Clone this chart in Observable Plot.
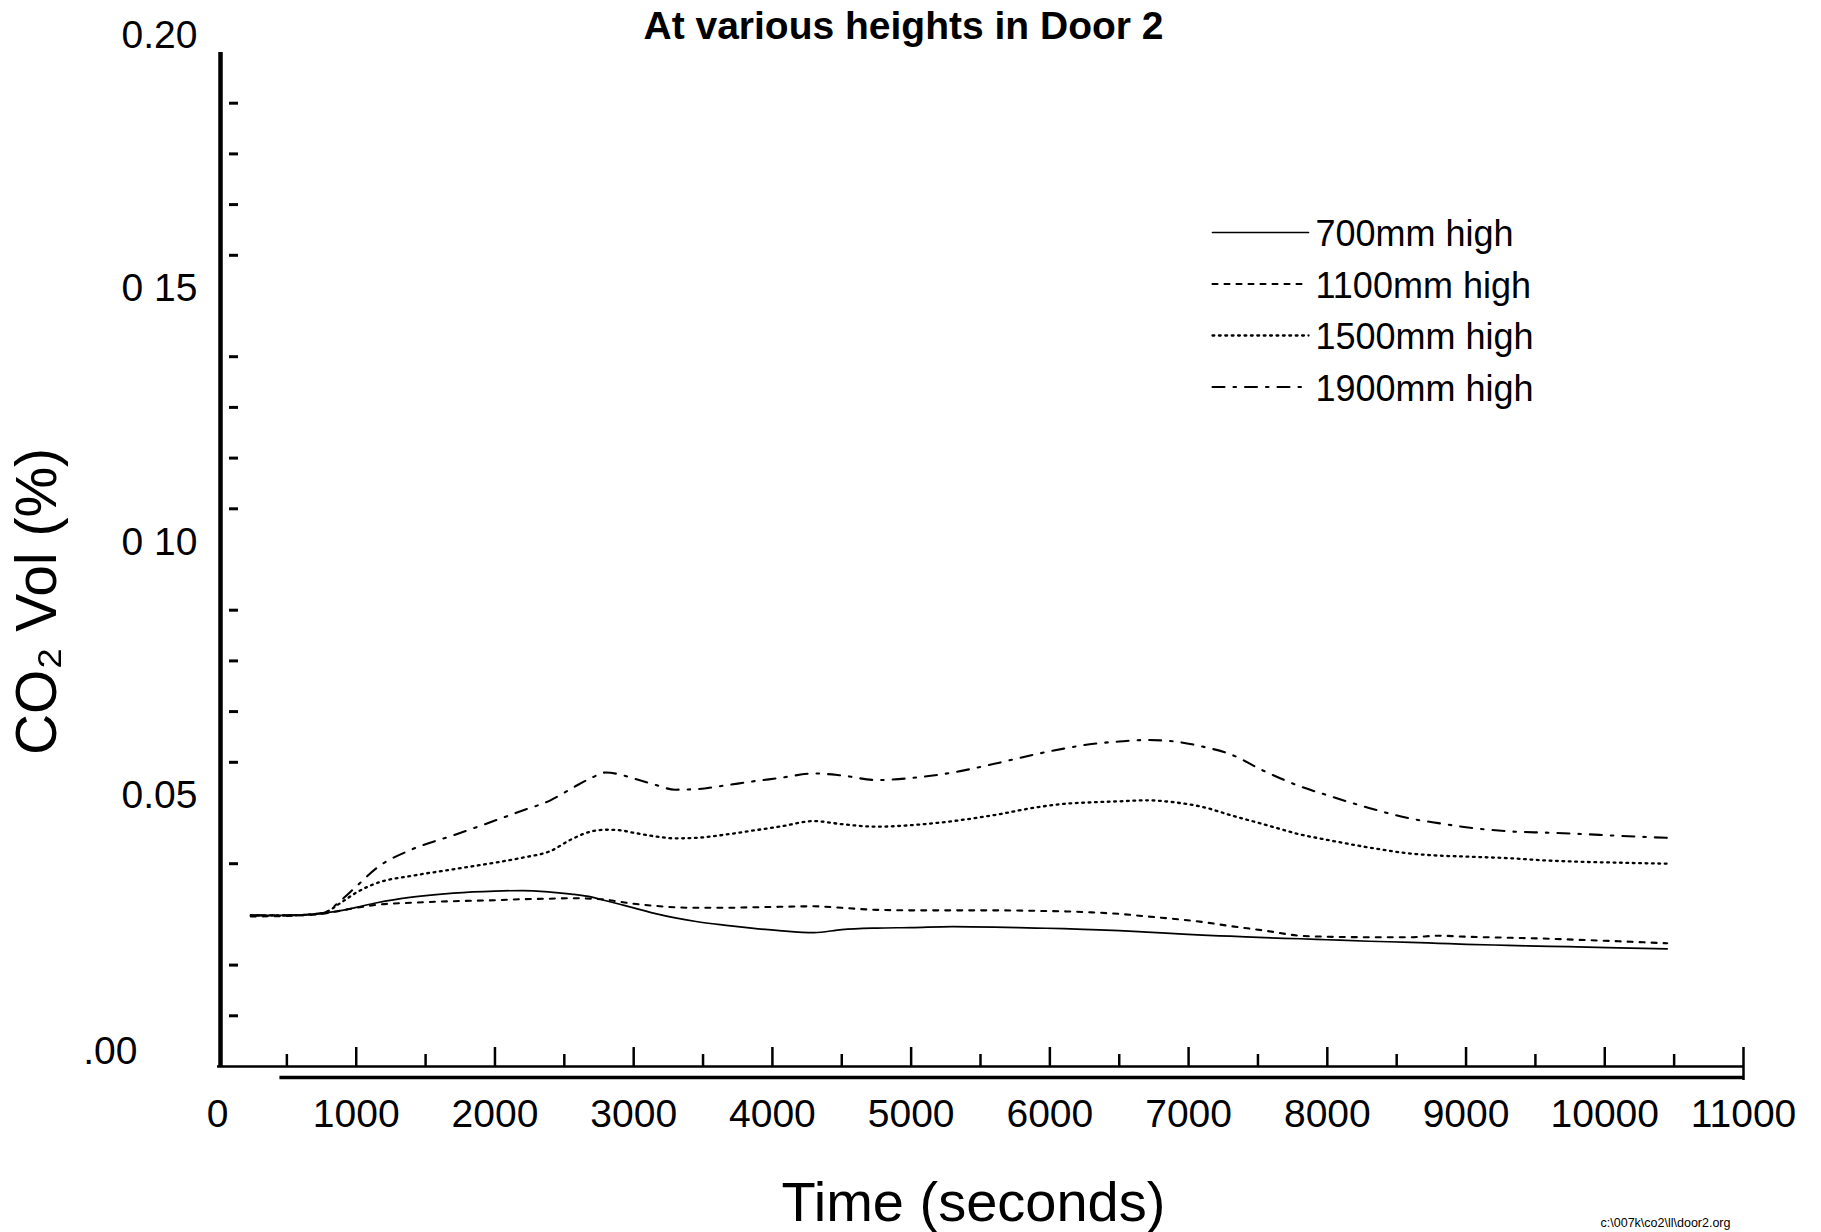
<!DOCTYPE html>
<html>
<head>
<meta charset="utf-8">
<script src="https://cdn.jsdelivr.net/npm/d3@7"></script>
<script src="https://cdn.jsdelivr.net/npm/@observablehq/plot@0.6"></script>
<style>
  html, body { margin: 0; padding: 0; background: #fff; overflow: hidden; }
  #chart svg { display: block; }
</style>
</head>
<body>
<div id="chart"></div>
<script>
// ---------------- data ----------------
const titleText = "At various heights in Door 2";
const xTitle = "Time (seconds)";
const yTitle = "CO\u2082 Vol (%)";
const footerText = "c:\\007k\\co2\\ll\\door2.org";

const seriesNames = ["700mm high", "1100mm high", "1500mm high", "1900mm high"];

// time in seconds
const times = [240, 500, 750, 900, 1000, 1150, 1400, 1700, 2000, 2200, 2400, 2550, 2700, 2800, 2900, 3000,
  3150, 3300, 3450, 3650, 3850, 4050, 4300, 4500, 4750, 5000, 5300, 5600, 5900, 6100, 6300, 6500,
  6700, 6900, 7100, 7300, 7550, 7800, 8000, 8300, 8600, 8800, 9000, 9300, 9600, 9800, 10100, 10450];

const v700 = [0.0298, 0.0298, 0.0302, 0.0308, 0.0314, 0.0323, 0.0334, 0.0342, 0.0346, 0.0347, 0.0344, 0.0340,
  0.0334, 0.0327, 0.0320, 0.0313, 0.0302, 0.0293, 0.0286, 0.0279, 0.0273, 0.0268, 0.0264, 0.0270,
  0.0273, 0.0274, 0.0276, 0.0275, 0.0273, 0.0272, 0.0270, 0.0268, 0.0265, 0.0262, 0.0259, 0.0257,
  0.0254, 0.0252, 0.0250, 0.0247, 0.0245, 0.0243, 0.0241, 0.0239, 0.0237, 0.0236, 0.0234, 0.0232];

const v1100 = [0.0296, 0.0297, 0.0301, 0.0308, 0.0313, 0.0319, 0.0323, 0.0326, 0.0328, 0.0330, 0.0331, 0.0332,
  0.0331, 0.0329, 0.0325, 0.0321, 0.0317, 0.0314, 0.0313, 0.0313, 0.0314, 0.0315, 0.0316, 0.0313,
  0.0309, 0.0308, 0.0308, 0.0308, 0.0307, 0.0306, 0.0304, 0.0301, 0.0296, 0.0291, 0.0285, 0.0277,
  0.0268, 0.0258, 0.0256, 0.0255, 0.0255, 0.0258, 0.0256, 0.0254, 0.0252, 0.0250, 0.0247, 0.0243];

const v1500 = [0.0298, 0.0298, 0.0302, 0.0325, 0.0343, 0.0362, 0.0376, 0.0389, 0.0402, 0.0412, 0.0425, 0.0448,
  0.0464, 0.0467, 0.0466, 0.0461, 0.0454, 0.0450, 0.0451, 0.0457, 0.0465, 0.0473, 0.0484, 0.0478,
  0.0473, 0.0476, 0.0484, 0.0496, 0.0511, 0.0518, 0.0521, 0.0523, 0.0525, 0.0521, 0.0512, 0.0496,
  0.0477, 0.0458, 0.0447, 0.0432, 0.0420, 0.0416, 0.0414, 0.0411, 0.0406, 0.0404, 0.0402, 0.0400];

const v1900 = [0.0298, 0.0298, 0.0302, 0.0330, 0.0355, 0.0392, 0.0428, 0.0456, 0.0485, 0.0505, 0.0525, 0.0548,
  0.0570, 0.0580, 0.0576, 0.0568, 0.0556, 0.0546, 0.0547, 0.0554, 0.0562, 0.0569, 0.0578, 0.0574,
  0.0565, 0.0569, 0.0580, 0.0597, 0.0616, 0.0627, 0.0636, 0.0641, 0.0644, 0.0641, 0.0631, 0.0616,
  0.0582, 0.0553, 0.0535, 0.0510, 0.0489, 0.0480, 0.0472, 0.0464, 0.0461, 0.0459, 0.0455, 0.0451];

const seriesValues = [v700, v1100, v1500, v1900];

// axes
const xDomain = [0, 11000];
const yDomain = [0, 0.20];
const xMajorTicks = [1000, 2000, 3000, 4000, 5000, 6000, 7000, 8000, 9000, 10000, 11000];
const xMinorTicks = [500, 1500, 2500, 3500, 4500, 5500, 6500, 7500, 8500, 9500, 10500];
const xLabelTicks = [0, 1000, 2000, 3000, 4000, 5000, 6000, 7000, 8000, 9000, 10000, 11000];
const yLabelValues = [0.05, 0.10, 0.15, 0.20];
const yLabelTexts = ["0.05", "0 10", "0 15", "0.20"];
const yZeroLabel = ".00";
const yMinorTicks = [0.01, 0.02, 0.04, 0.06, 0.07, 0.08, 0.09, 0.11, 0.12, 0.13, 0.14, 0.16, 0.17, 0.18, 0.19];
const baselineShadowStart = 450;

// ---------------- styles ----------------
const font = "'Liberation Sans', Arial, Helvetica, sans-serif";
const lineStyles = [
  {strokeWidth: 1.7},
  {strokeWidth: 2.1, strokeDasharray: "5,7"},
  {strokeWidth: 2.3, strokeDasharray: "1.8,4.6"},
  {strokeWidth: 2.1, strokeDasharray: "12,9,2.5,9"}
];
const legendLine = {draw(context, l) { context.moveTo(0, 0); context.lineTo(0, -l); }};

// ---------------- build ----------------
const rows = seriesNames.flatMap((name, s) => times.map((t, i) => ({series: name, t, v: seriesValues[s][i]})));
const yLabelMap = new Map(yLabelValues.map((v, i) => [v, yLabelTexts[i]]));

const seriesMarks = seriesNames.flatMap((name, s) => [
  Plot.line(rows.filter(d => d.series === name), {x: "t", y: "v", curve: "monotone-x", stroke: "black", ...lineStyles[s]}),
  Plot.vector([name], {frameAnchor: "top-left", dx: 995, dy: 180 + s * 51.5, length: 96, rotate: 90,
    anchor: "start", shape: legendLine, stroke: "black", ...lineStyles[s]}),
  Plot.text([name], {frameAnchor: "top-left", dx: 1098, dy: 182 + s * 51.5, text: d => d,
    textAnchor: "start", lineAnchor: "middle", fontSize: 36, fill: "black"})
]);

const chart = Plot.plot({
  width: 1821,
  height: 1232,
  marginLeft: 217,
  marginRight: 78,
  marginTop: 52,
  marginBottom: 166,
  style: {fontFamily: font, background: "white", color: "black"},
  x: {domain: xDomain},
  y: {domain: yDomain},
  marks: [
    // x axis pieces
    Plot.ruleY([yDomain[0]], {strokeWidth: 2.6}),
    Plot.ruleY([yDomain[0]], {x1: baselineShadowStart, x2: xDomain[1], dy: 11, strokeWidth: 3.6}),
    Plot.axisX(xMajorTicks, {anchor: "bottom", tickSize: 19, dy: -19, fill: "none", strokeWidth: 2.5}),
    Plot.axisX(xMinorTicks, {anchor: "bottom", tickSize: 12, dy: -12, fill: "none", strokeWidth: 2.5}),
    Plot.axisX([xDomain[1]], {anchor: "bottom", tickSize: 14, fill: "none", strokeWidth: 2.5}),
    Plot.axisX(xLabelTicks, {anchor: "bottom", tickSize: 0, tickPadding: 33, label: null, fontSize: 39,
      tickFormat: d => String(d)}),
    // y axis pieces
    Plot.ruleX([xDomain[0]], {strokeWidth: 4.5, dx: 3}),
    Plot.axisY(yMinorTicks, {anchor: "left", tickSize: 9, dx: 21, fill: "none", strokeWidth: 3}),
    Plot.axisY(yLabelValues, {anchor: "left", tickSize: 0, tickPadding: 20, dy: -17, label: null, fontSize: 39,
      tickFormat: d => yLabelMap.get(d)}),
    Plot.axisY([yDomain[0]], {anchor: "left", tickSize: 0, tickPadding: 80, dy: -15, label: null, fontSize: 39,
      tickFormat: () => yZeroLabel}),
    // series + legend
    ...seriesMarks,
    // titles
    Plot.text([titleText], {frameAnchor: "top", dx: -77, dy: -26, text: d => d, fontSize: 39, fontWeight: "bold",
      textAnchor: "middle", lineAnchor: "middle", fill: "black"}),
    Plot.text([yTitle], {frameAnchor: "left", dx: -180, dy: 42, rotate: -90, text: d => d, fontSize: 57,
      textAnchor: "middle", lineAnchor: "middle", fill: "black"}),
    Plot.text([xTitle], {frameAnchor: "bottom", dx: -7, dy: 137, text: d => d, fontSize: 56,
      textAnchor: "middle", lineAnchor: "middle", fill: "black"}),
    Plot.text([footerText], {frameAnchor: "bottom-right", dx: -13, dy: 156, text: d => d, fontSize: 12.5,
      textAnchor: "end", lineAnchor: "middle", fill: "black"})
  ]
});

document.getElementById("chart").append(chart);
</script>
</body>
</html>
